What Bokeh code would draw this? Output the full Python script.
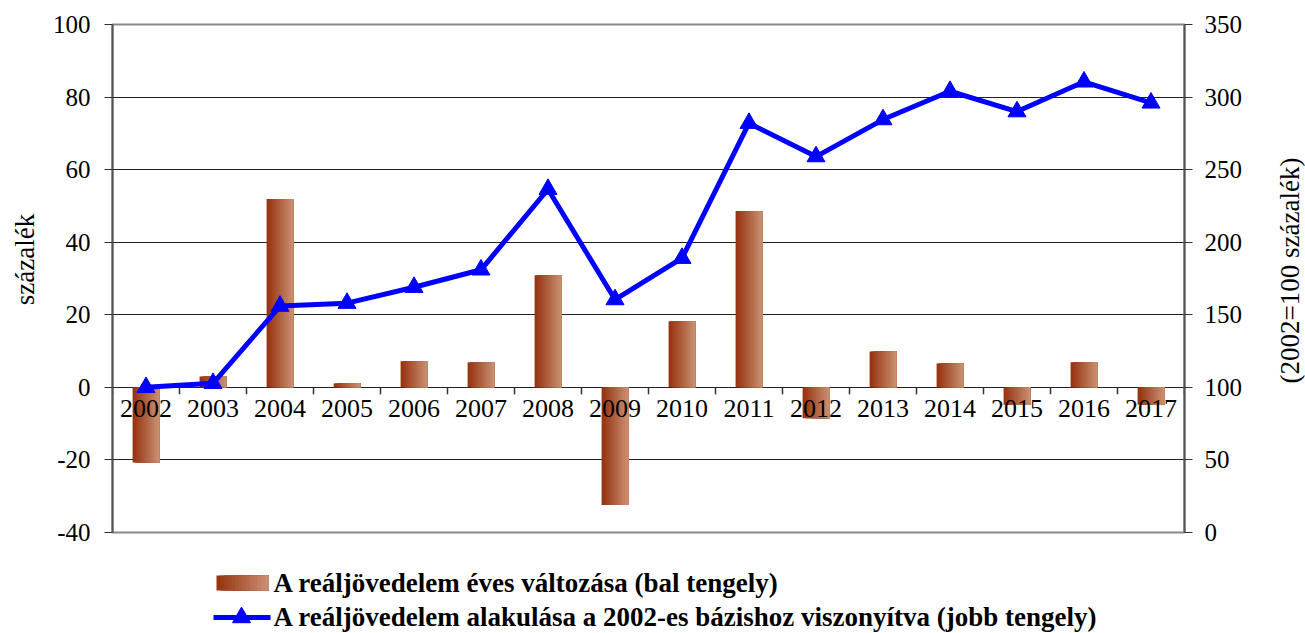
import numpy as np
from bokeh.plotting import figure
from bokeh.layouts import column, row
from bokeh.models import Range1d, LinearAxis, FixedTicker
from bokeh.core.properties import value
from bokeh.embed import file_html
from bokeh.resources import INLINE

years = ["2002", "2003", "2004", "2005", "2006", "2007", "2008", "2009",
         "2010", "2011", "2012", "2013", "2014", "2015", "2016", "2017"]
annual_change = [-20.7, 3.0, 51.9, 1.1, 7.2, 6.9, 30.9, -32.4,
                 18.2, 48.6, -8.5, 9.9, 6.6, -4.8, 6.9, -4.8]
index_2002 = [100.0, 102.8, 156.0, 158.0, 169.0, 181.0, 236.5, 160.5,
              189.0, 282.0, 259.0, 284.5, 304.0, 290.0, 310.5, 296.0]
left_ticks = [-40, -20, 0, 20, 40, 60, 80, 100]
right_ticks = [0, 50, 100, 150, 200, 250, 300, 350]
left_title = "százalék"
right_title = "(2002=100 százalék)"
bar_label = "A reáljövedelem éves változása (bal tengely)"
line_label = "A reáljövedelem alakulása a 2002-es bázishoz viszonyítva (jobb tengely)"

FONT = "Liberation Serif"
SERIF = value("Liberation Serif")
idx = np.arange(len(years))

TOP, FRAME_BOTTOM, MAIN_H = 24, 532, 545
SIDE_W = 40

# ---------------- main chart ----------------
p = figure(width=1305 - 2 * SIDE_W, height=MAIN_H, output_backend="svg",
           toolbar_location=None,
           x_range=Range1d(-0.5, len(years) - 0.5), y_range=Range1d(-40, 100),
           x_axis_type=None, min_border_left=112 - SIDE_W,
           min_border_right=(1305 - SIDE_W) - 1184,
           min_border_top=TOP, min_border_bottom=MAIN_H - FRAME_BOTTOM)
p.background_fill_color = "white"
p.border_fill_color = "white"
p.outline_line_color = "#888888"
p.outline_line_width = 2


def style_axis(ax):
    ax.major_label_text_font = FONT
    ax.major_label_text_font_size = "25px"
    ax.major_label_text_color = "black"
    ax.major_tick_out = 8
    ax.major_tick_in = 0
    ax.minor_tick_out = 0
    ax.minor_tick_in = 0
    ax.axis_line_color = "#555555"
    ax.axis_line_width = 2
    ax.major_tick_line_color = "#333333"


ya = p.yaxis[0]
style_axis(ya)
ya.ticker = FixedTicker(ticks=left_ticks)
ya.major_label_overrides = {t: str(t) for t in left_ticks}
ya.major_label_standoff = 14

p.ygrid.ticker = FixedTicker(ticks=left_ticks)
p.ygrid.grid_line_color = "#222222"
p.ygrid.grid_line_width = 1

p.extra_y_ranges = {"right": Range1d(0, 350)}
ra = LinearAxis(y_range_name="right", ticker=FixedTicker(ticks=right_ticks))
style_axis(ra)
ra.major_label_standoff = 12
p.add_layout(ra, "right")

# bars with a horizontal gradient (overlapping strips, left to right)
bar_w = 0.4
n_strips = 14
c0 = np.array([152, 52, 16])
c1 = np.array([200, 142, 112])
strip_colors = []
for k in range(n_strips):
    t = k / (n_strips - 1)
    c = (c0 + (c1 - c0) * t).astype(int)
    strip_colors.append("#%02x%02x%02x" % tuple(c))
for k, col in enumerate(strip_colors):
    p.quad(left=idx - bar_w / 2 + k * bar_w / n_strips, right=idx + bar_w / 2,
           top=annual_change, bottom=0, fill_color=col, line_color=None)

# zero line with category ticks
p.ray(x=np.arange(len(years) + 1) - 0.5, y=0, length=7, length_units="screen",
      angle=-np.pi / 2, line_color="#333333", line_width=1.5)

# category labels along the zero line
p.text(x=idx, y=0, text=years, text_align="center", text_baseline="top",
       y_offset=13, text_font=SERIF, text_font_size="26px", text_color="black")

# index line on the right axis
p.line(x=idx, y=index_2002, y_range_name="right", line_color="#0000ff",
       line_width=5)
p.scatter(x=idx, y=index_2002, y_range_name="right", marker="triangle",
          size=18, fill_color="#0000ff", line_color="#0000ff")


# ---------------- side figures holding the rotated axis titles ----------------
def side_fig(x0):
    f = figure(width=SIDE_W, height=MAIN_H, output_backend="svg",
               toolbar_location=None,
               x_range=Range1d(x0, x0 + SIDE_W), y_range=Range1d(FRAME_BOTTOM, TOP),
               x_axis_type=None, y_axis_type=None,
               min_border_left=0, min_border_right=0,
               min_border_top=TOP, min_border_bottom=MAIN_H - FRAME_BOTTOM)
    f.outline_line_color = None
    f.background_fill_color = "white"
    f.border_fill_color = "white"
    return f


lf = side_fig(0)
lf.text(x=[24], y=[259], text=[left_title], angle=np.pi / 2,
        text_align="center", text_baseline="middle", text_font=value("serif"),
        text_font_size="27px", text_color="black")

rf = side_fig(1305 - SIDE_W)
rf.text(x=[1289], y=[270], text=[right_title], angle=np.pi / 2,
        text_align="center", text_baseline="middle",
        text_font=value("Times New Roman"),
        text_font_size="27px", text_color="black")

# ---------------- legend strip (x = page pixels, y = pixels from its top) -------
LEG_H = 633 - MAIN_H
leg = figure(width=1305, height=LEG_H, output_backend="svg", toolbar_location=None,
             x_range=Range1d(112, 1184), y_range=Range1d(LEG_H, 0),
             x_axis_type=None, y_axis_type=None, min_border=0,
             min_border_left=112, min_border_right=1305 - 1184)
leg.outline_line_color = None
leg.background_fill_color = "white"
leg.border_fill_color = "white"

sw_x0, sw_x1, sw_y0, sw_y1 = 216, 268, 30, 45
for k, col in enumerate(strip_colors):
    leg.quad(left=[sw_x0 + k * (sw_x1 - sw_x0) / n_strips], right=[sw_x1],
             top=[sw_y0], bottom=[sw_y1], fill_color=col, line_color=None)
leg.text(x=[273], y=[37], text=[bar_label], text_baseline="middle",
         text_font=SERIF, text_font_style="bold", text_font_size="27px",
         text_color="black")

leg.line(x=[213, 270], y=[72, 72], line_color="#0000ff", line_width=5)
leg.scatter(x=[241], y=[72], marker="triangle", size=18,
            fill_color="#0000ff", line_color="#0000ff")
leg.text(x=[273], y=[71], text=[line_label], text_baseline="middle",
         text_font=SERIF, text_font_style="bold", text_font_size="27px",
         text_color="black")

layout = column(row(lf, p, rf, spacing=0), leg, spacing=0)
open("out.html", "w").write(file_html(layout, INLINE))
